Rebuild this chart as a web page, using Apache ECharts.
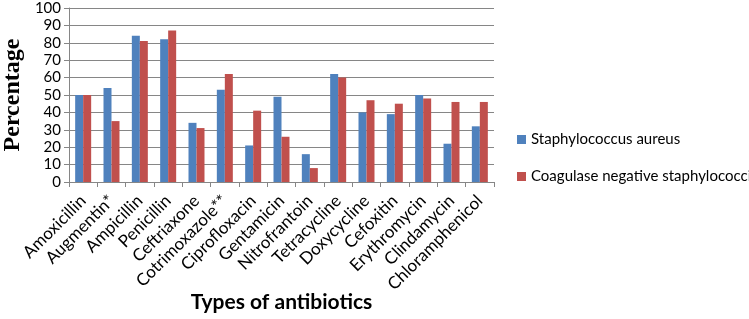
<!DOCTYPE html>
<html>
<head>
<meta charset="utf-8">
<script src="https://cdn.jsdelivr.net/npm/echarts@6/dist/echarts.min.js"></script>
<style>
  html, body { margin: 0; padding: 0; background: #fff; }
  #chart { width: 749px; height: 319px; }
</style>
</head>
<body>
<div id="chart"></div>
<script>
const antibiotics = ['Amoxicillin', 'Augmentin*', 'Ampicillin', 'Penicillin', 'Ceftriaxone',
  'Cotrimoxazole**', 'Ciprofloxacin', 'Gentamicin', 'Nitrofrantoin', 'Tetracycline',
  'Doxycycline', 'Cefoxitin', 'Erythromycin', 'Clindamycin', 'Chloramphenicol']
const staphAureus = [50, 54, 84, 82, 34, 53, 21, 49, 16, 62, 40, 39, 50, 22, 32]
const coagNegative = [50, 35, 81, 87, 31, 62, 41, 26, 8, 60, 47, 45, 48, 46, 46]
const yTicks = { min: 0, max: 100, interval: 10 }

const labelFont = 'Lato, "Open Sans", sans-serif'
const axisGray = '#868686'

const chart = echarts.init(document.getElementById('chart'), null, { renderer: 'canvas' })

chart.setOption({
  animation: false,
  grid: { left: 69, right: 255, top: 8, bottom: 137, containLabel: false, outerBoundsMode: 'none' },
  legend: {
    orient: 'vertical',
    left: 512,
    top: 127,
    itemWidth: 9,
    itemHeight: 9,
    itemGap: 22,
    icon: 'rect',
    textStyle: { fontFamily: labelFont, fontSize: 15, color: '#000' },
    data: ['Staphylococcus aureus', 'Coagulase negative staphylococci']
  },
  xAxis: {
    type: 'category',
    data: antibiotics,
    name: 'Types of antibiotics',
    nameLocation: 'middle',
    nameGap: 110,
    nameMoveOverlap: false,
    nameTextStyle: { fontFamily: labelFont, fontWeight: 'bold', fontSize: 21, color: '#000' },
    axisLine: { lineStyle: { color: axisGray } },
    axisTick: { show: true, length: 5, lineStyle: { color: axisGray } },
    axisLabel: { rotate: 45, fontFamily: labelFont, fontSize: 17, color: '#000', margin: 16, interval: 0 }
  },
  yAxis: {
    type: 'value',
    min: yTicks.min,
    max: yTicks.max,
    interval: yTicks.interval,
    name: 'Percentage',
    nameLocation: 'middle',
    nameGap: 44,
    nameMoveOverlap: false,
    nameTextStyle: { fontFamily: '"Liberation Serif", serif', fontWeight: 'bold', fontSize: 24, color: '#000' },
    axisLine: { show: true, lineStyle: { color: axisGray } },
    axisTick: { show: true, length: 5, inside: false, lineStyle: { color: axisGray } },
    axisLabel: { fontFamily: labelFont, fontSize: 15, color: '#000', margin: 8 },
    splitLine: { lineStyle: { color: axisGray, width: 1 } }
  },
  series: [
    {
      name: 'Staphylococcus aureus',
      type: 'bar',
      data: staphAureus,
      barWidth: 8,
      barGap: '0%',
      itemStyle: { color: '#4F81BD' }
    },
    {
      name: 'Coagulase negative staphylococci',
      type: 'bar',
      data: coagNegative,
      barWidth: 8,
      itemStyle: { color: '#C0504D' }
    }
  ]
})

window.addEventListener('resize', () => chart.resize())
</script>
</body>
</html>
